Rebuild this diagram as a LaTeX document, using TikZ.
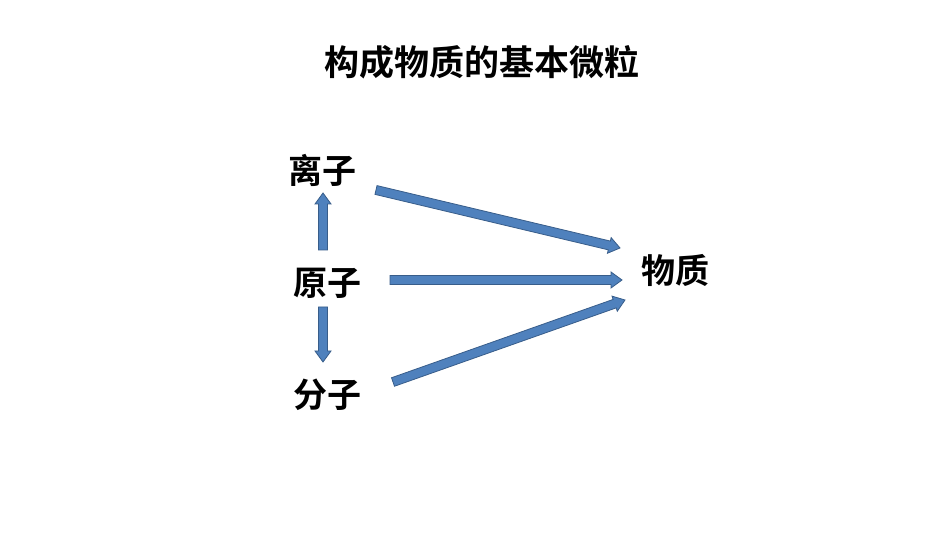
\documentclass[tikz,border=0pt]{standalone}
\usepackage{fontspec}
\newfontfamily\cjk[BoldFont={Noto Sans CJK SC Bold}]{Noto Sans CJK SC}
\usetikzlibrary{calc}
\definecolor{arrfill}{HTML}{4F81BD}
\definecolor{arrline}{HTML}{385D8A}
\tikzset{lbl/.style={font=\cjk\bfseries\fontsize{34}{38}\selectfont, inner sep=0pt},
 blk/.style={fill=arrfill, draw=arrline, line width=0.8pt, line join=miter}}
\newcommand\blockarrow[2]{%
 \coordinate (nk) at ($(#2)!11pt!(#1)$);
 \draw[blk] ($(#1)!4.5pt!90:(#2)$) -- ($(nk)!4.5pt!90:(#2)$) -- ($(nk)!8pt!90:(#2)$) -- (#2)
  -- ($(nk)!8pt!-90:(#2)$) -- ($(nk)!4.5pt!-90:(#2)$) -- ($(#1)!4.5pt!-90:(#2)$) -- cycle;}
\begin{document}
\begin{tikzpicture}[x=1pt,y=1pt]
\useasboundingbox (0,0) rectangle (950,535);
\fill[white] (0,0) rectangle (950,535);
\node[lbl, font=\cjk\bfseries\fontsize{35}{38}\selectfont] (title) at (482,473) {构成物质的基本微粒};
\node[lbl] (lz) at (322,365) {离子};
\node[lbl] (yz) at (327,252) {原子};
\node[lbl] (fz) at (327,140) {分子};
\node[lbl] (wz) at (675,265) {物质};
\coordinate (u1) at (323,285); \coordinate (u2) at (323,342);
\coordinate (d1) at (323,228); \coordinate (d2) at (323,173);
\coordinate (h1) at (390,255); \coordinate (h2) at (622,255);
\coordinate (a1) at (376,345); \coordinate (a2) at (620,287);
\coordinate (b1) at (393,153); \coordinate (b2) at (625,235);
\blockarrow{u1}{u2}
\blockarrow{d1}{d2}
\blockarrow{h1}{h2}
\blockarrow{a1}{a2}
\blockarrow{b1}{b2}
\end{tikzpicture}
\end{document}
